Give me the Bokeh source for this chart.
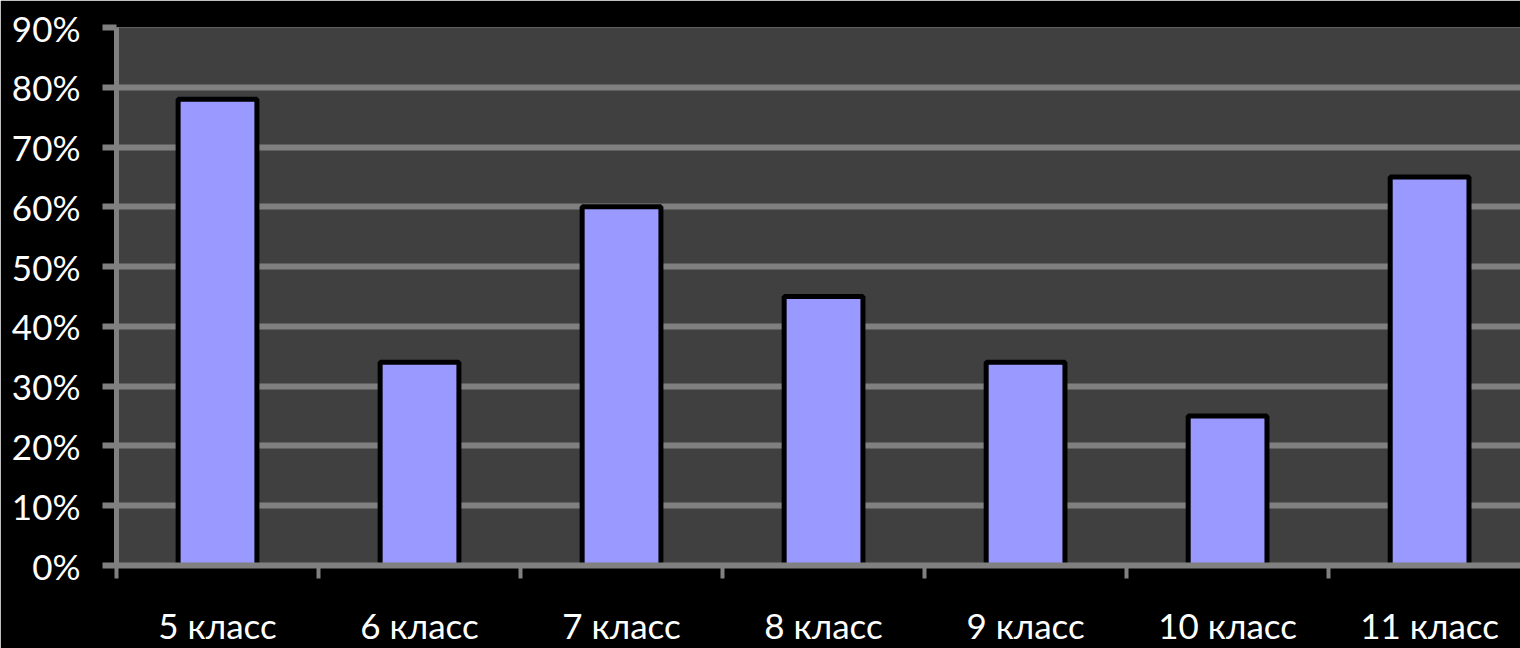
from bokeh.plotting import figure
from bokeh.models import FixedTicker, Range1d, ColumnDataSource, NumeralTickFormatter
from bokeh.embed import file_html
from bokeh.resources import INLINE

categories = ["5 класс", "6 класс", "7 класс", "8 класс", "9 класс", "10 класс", "11 класс"]
values = [0.78, 0.34, 0.60, 0.45, 0.34, 0.25, 0.65]
y_ticks = [0.0, 0.1, 0.2, 0.3, 0.4, 0.5, 0.6, 0.7, 0.8, 0.9]

FONT = "Lato"
GRAY = "#808080"

centers = [i + 0.5 for i in range(len(categories))]
src = ColumnDataSource(dict(x=centers, top=values))

p = figure(width=1520, height=648, output_backend="svg", toolbar_location=None,
           x_range=Range1d(0, 6.95), y_range=Range1d(0, 0.9),
           min_border_left=116, min_border_right=0, min_border_top=27, min_border_bottom=83)
p.background_fill_color = "#404040"
p.border_fill_color = "#000000"
p.outline_line_color = None

p.vbar(x="x", top="top", width=0.39, bottom=0, source=src,
       fill_color="#9999FF", line_color="#000000", line_width=5)

# x axis
p.xaxis.ticker = FixedTicker(ticks=centers, minor_ticks=list(range(len(categories) + 1)))
p.xaxis.major_label_overrides = {c: lab for c, lab in zip(centers, categories)}
p.xaxis.major_tick_line_color = None
p.xaxis.major_tick_out = 0
p.xaxis.major_tick_in = 0
p.xaxis.minor_tick_line_color = GRAY
p.xaxis.minor_tick_line_width = 4
p.xaxis.minor_tick_out = 13
p.xaxis.minor_tick_in = 0
p.xaxis.axis_line_color = GRAY
p.xaxis.axis_line_width = 6
p.xaxis.major_label_text_color = "#ffffff"
p.xaxis.major_label_text_font = FONT
p.xaxis.major_label_text_font_size = "35px"
p.xaxis.major_label_standoff = 25

# y axis
p.yaxis.ticker = FixedTicker(ticks=y_ticks, minor_ticks=[])
p.yaxis.formatter = NumeralTickFormatter(format="0%")
p.yaxis.major_tick_line_color = GRAY
p.yaxis.major_tick_line_width = 6
p.yaxis.major_tick_out = 14
p.yaxis.major_tick_in = 0
p.yaxis.minor_tick_line_color = None
p.yaxis.axis_line_color = GRAY
p.yaxis.axis_line_width = 5
p.yaxis.major_label_text_color = "#ffffff"
p.yaxis.major_label_text_font = FONT
p.yaxis.major_label_text_font_size = "35px"
p.yaxis.major_label_standoff = 22

p.xgrid.grid_line_color = None
p.ygrid.ticker = FixedTicker(ticks=y_ticks)
p.ygrid.grid_line_color = GRAY
p.ygrid.grid_line_width = 6

open("out.html", "w").write(file_html(p, INLINE))
